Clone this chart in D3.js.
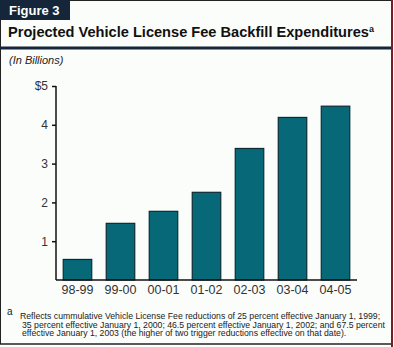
<!DOCTYPE html>
<html>
<head>
<meta charset="utf-8">
<script src="https://cdn.jsdelivr.net/npm/d3@7"></script>
<style>
  body { margin: 0; background: #fff; }
  text { font-family: "Liberation Sans", Arial, sans-serif; }
</style>
</head>
<body>
<div id="chart"></div>
<script>
// data (billions of dollars)
var years = ["98-99", "99-00", "00-01", "01-02", "02-03", "03-04", "04-05"];
var backfill = [0.53, 1.46, 1.77, 2.26, 3.39, 4.19, 4.48];
var yTicks = [1, 2, 3, 4, 5];
var footLines = [
  "Reflects cummulative Vehicle License Fee reductions of 25 percent effective January 1, 1999;",
  "35 percent effective January 1, 2000; 46.5 percent effective January 1, 2002; and 67.5 percent",
  "effective January 1, 2003 (the higher of two trigger reductions effective on that date)."
];

var W = 394, H = 347;
var navy = "#15263a";

var svg = d3.select("#chart")
  .append("svg")
    .attr("width", W)
    .attr("height", H);

// panel background + frame
svg.append("rect")
  .attr("x", 0).attr("y", 0)
  .attr("width", 392).attr("height", 344)
  .attr("fill", "#fafdfa");

svg.append("path")
  .attr("d", "M0.5,344 V0.5 H391")
  .attr("fill", "none")
  .attr("stroke", "#222")
  .attr("stroke-width", 1);
svg.append("line")
  .attr("x1", 0).attr("x2", 392)
  .attr("y1", 344).attr("y2", 344)
  .attr("stroke", "#222")
  .attr("stroke-width", 1.5);
svg.append("line")
  .attr("x1", 392).attr("x2", 392)
  .attr("y1", 0).attr("y2", H)
  .attr("stroke", "#7d1c22")
  .attr("stroke-width", 2);

// figure tab
svg.append("rect")
  .attr("x", 0).attr("y", 0)
  .attr("width", 70).attr("height", 20)
  .attr("fill", navy);
svg.append("text")
  .attr("x", 9).attr("y", 15)
  .attr("fill", "#fff")
  .style("font-size", "13px")
  .style("font-weight", "bold")
  .text("Figure 3");

// title
var title = svg.append("text")
  .attr("x", 8).attr("y", 37)
  .attr("fill", "#111")
  .style("font-size", "14.6px")
  .style("font-weight", "bold")
  .text("Projected Vehicle License Fee Backfill Expenditures");
title.append("tspan")
  .attr("dy", -5)
  .style("font-size", "9px")
  .text("a");

svg.append("rect")
  .attr("x", 0).attr("y", 46.5)
  .attr("width", 391).attr("height", 3)
  .attr("fill", navy);

svg.append("text")
  .attr("x", 9).attr("y", 64)
  .attr("fill", "#222")
  .style("font-size", "11px")
  .style("font-style", "italic")
  .text("(In Billions)");

// scales
var x = d3.scaleBand()
  .domain(years)
  .range([56, 357])
  .paddingInner(0.337)
  .paddingOuter(0.168);

var y = d3.scaleLinear()
  .domain([0, 5])
  .range([280, 86]);

// bars
svg.selectAll(".bar")
  .data(backfill)
  .enter()
  .append("rect")
    .attr("class", "bar")
    .attr("x", function(d, i) { return x(years[i]); })
    .attr("y", function(d) { return y(d); })
    .attr("width", x.bandwidth())
    .attr("height", function(d) { return y(0) - y(d); })
    .attr("fill", "#076878")
    .attr("stroke", "#0e2b33")
    .attr("stroke-width", 1.2);

// y axis
var yAxis = svg.append("g")
  .attr("transform", "translate(56,0)")
  .call(d3.axisLeft(y)
    .tickValues(yTicks)
    .tickSize(4)
    .tickPadding(4)
    .tickFormat(function(d) { return d === 5 ? "$5" : d; }));
yAxis.select(".domain")
  .attr("d", "M0," + y(5) + "V" + y(0))
  .attr("stroke", "#111")
  .attr("stroke-width", 1.5);
yAxis.selectAll(".tick line").attr("stroke", "#111").attr("stroke-width", 1.5);
yAxis.selectAll(".tick text")
  .attr("fill", "#333")
  .style("font-size", "12px")
  .style("font-family", "'Liberation Sans', Arial, sans-serif");

// x axis
var xAxis = svg.append("g")
  .attr("transform", "translate(0,280)")
  .call(d3.axisBottom(x).tickSize(0).tickPadding(5));
xAxis.select(".domain")
  .attr("d", "M56,0H357")
  .attr("stroke", "#111")
  .attr("stroke-width", 1.5);
xAxis.selectAll(".tick text")
  .attr("fill", "#333")
  .style("font-size", "12.5px")
  .style("font-family", "'Liberation Sans', Arial, sans-serif");

// footnote
svg.append("text")
  .attr("x", 7).attr("y", 315)
  .attr("fill", "#222")
  .style("font-size", "10px")
  .text("a");

svg.selectAll(".foot")
  .data(footLines)
  .enter()
  .append("text")
    .attr("class", "foot")
    .attr("x", function(d, i) { return i === 0 ? 20 : 22; })
    .attr("y", function(d, i) { return 319 + i * 8.6; })
    .attr("fill", "#222")
    .style("font-size", "8.7px")
    .text(function(d) { return d; });
</script>
</body>
</html>
